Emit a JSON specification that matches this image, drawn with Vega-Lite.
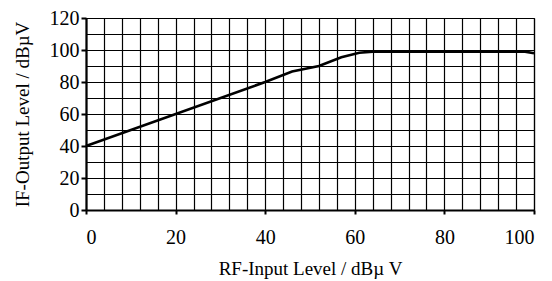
{
  "$schema": "https://vega.github.io/schema/vega-lite/v6.json",
  "width": 448,
  "height": 192,
  "autosize": "none",
  "padding": {"left": 86, "top": 18, "right": 18, "bottom": 71},
  "background": "white",
  "config": {
    "view": {"stroke": null},
    "font": "Liberation Serif",
    "axis": {"labelFont": "Liberation Serif", "titleFont": "Liberation Serif", "labelColor": "black", "titleColor": "black", "titleFontWeight": "normal"}
  },
  "data": {"values": [
    {"rf_input": 0, "if_output": 40},
    {"rf_input": 40, "if_output": 80},
    {"rf_input": 46, "if_output": 86.5},
    {"rf_input": 52, "if_output": 90},
    {"rf_input": 57, "if_output": 95.5},
    {"rf_input": 61, "if_output": 98.3},
    {"rf_input": 64, "if_output": 99},
    {"rf_input": 98, "if_output": 99},
    {"rf_input": 100, "if_output": 98}
  ]},
  "resolve": {"axis": {"x": "independent", "y": "independent"}},
  "layer": [
    {
      "mark": {"type": "line", "opacity": 0},
      "encoding": {
        "x": {"field": "rf_input", "type": "quantitative", "scale": {"domain": [0, 100], "nice": false},
          "axis": {"orient": "top", "values": [0,4,8,12,16,20,24,28,32,36,40,44,48,52,56,60,64,68,72,76,80,84,88,92,96,100], "grid": true, "gridColor": "black", "gridOpacity": 1, "gridWidth": 1.2, "labels": false, "ticks": false, "domain": true, "domainColor": "black", "domainWidth": 1.2, "title": null}},
        "y": {"field": "if_output", "type": "quantitative", "scale": {"domain": [0, 120], "nice": false},
          "axis": {"orient": "right", "values": [0,10,20,30,40,50,60,70,80,90,100,110,120], "grid": true, "gridColor": "black", "gridOpacity": 1, "gridWidth": 1.2, "labels": false, "ticks": false, "domain": true, "domainColor": "black", "domainWidth": 1.2, "title": null}}
      }
    },
    {
      "mark": {"type": "line", "color": "black", "strokeWidth": 2.6},
      "encoding": {
        "x": {"field": "rf_input", "type": "quantitative", "scale": {"domain": [0, 100], "nice": false},
          "axis": {"orient": "bottom", "values": [0,20,40,60,80,100], "grid": false, "domainColor": "black", "domainWidth": 2.2, "tickColor": "black", "tickSize": 4, "tickWidth": 2, "labelFontSize": 20, "labelPadding": 13, "title": "RF-Input Level / dBµ V", "titleFontSize": 19, "titlePadding": 12}},
        "y": {"field": "if_output", "type": "quantitative", "scale": {"domain": [0, 120], "nice": false},
          "axis": {"orient": "left", "values": [0,20,40,60,80,100,120], "grid": false, "domainColor": "black", "domainWidth": 2.2, "tickColor": "black", "tickSize": 5, "tickWidth": 2, "labelFontSize": 20, "labelPadding": 2, "title": "IF-Output Level / dBµV", "titleFontSize": 19, "titlePadding": 17}}
      }
    }
  ]
}
